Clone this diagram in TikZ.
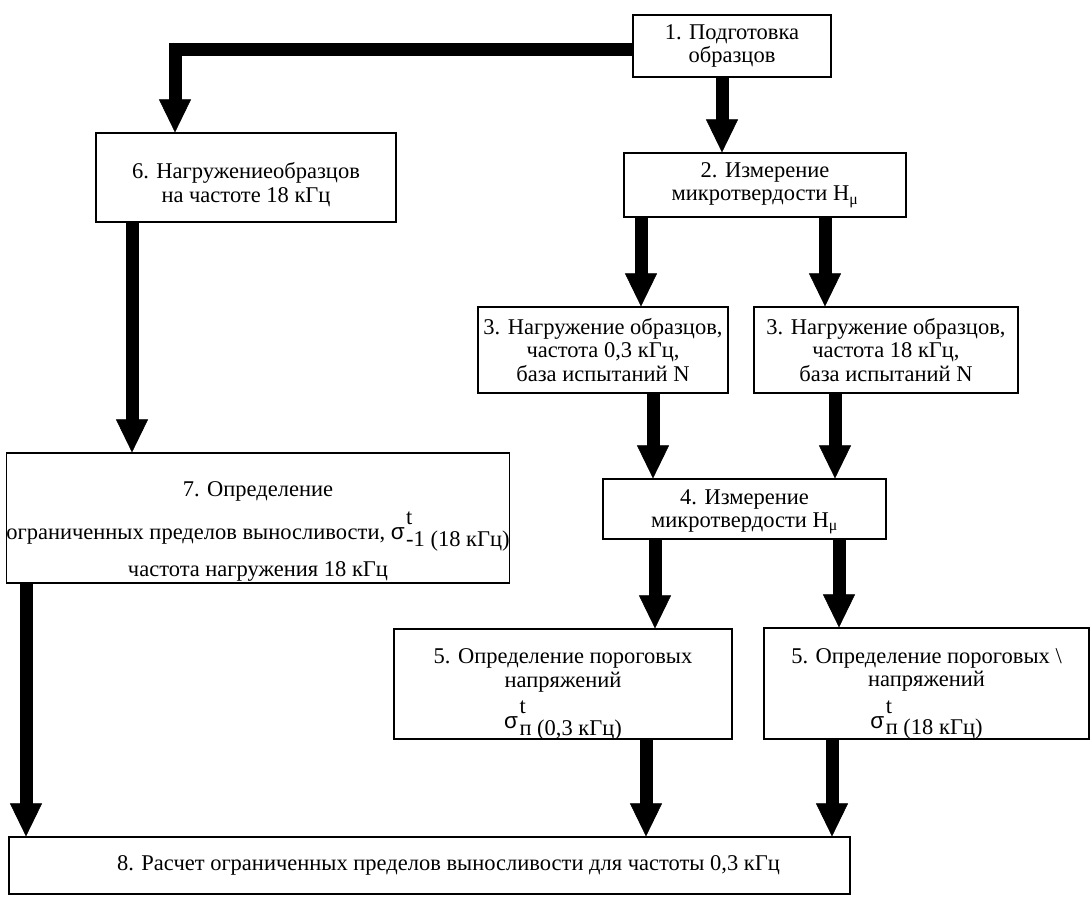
\documentclass[tikz,border=0pt]{standalone}
\usepackage{fontspec}
\setmainfont{Liberation Serif}
\newfontfamily\grfont{Liberation Sans}
\usetikzlibrary{arrows.meta, positioning}

\newcommand{\sgm}[2]{{\grfont σ}\kern1.5pt\rlap{\raisebox{0.65em}{#1}}\raisebox{-0.3em}{#2}}

\begin{document}
\begin{tikzpicture}[x=1pt, y=-1pt,
      blok/.style={draw, line width=1.2pt, align=center, inner sep=0pt,
                   font=\fontsize{22.5}{23.5}\selectfont},
      strel/.style={-{Triangle[width=32pt, length=33pt, line width=0.5pt]},
                    line width=13pt}
    ]
      \useasboundingbox (0,0) rectangle (1091,896);

      \node[blok, minimum width=198, minimum height=62] (b1) at (732,46) {1. Подготовка\\образцов};
      \node[blok, minimum width=282, minimum height=64] (b2) at (765,185) {2. Измерение\\микротвердости H\textsubscript{μ}};
      \node[blok, minimum width=300, minimum height=89] (b6) at (246,177.5) {\rule{0pt}{30pt}6. Нагружениеобразцов\\на частоте 18 кГц};
      \node[blok, minimum width=250, minimum height=86] (b3a) at (603,350) {3. Нагружение образцов,\\частота 0,3 кГц,\\база испытаний N};
      \node[blok, minimum width=264, minimum height=86] (b3b) at (886,350) {3. Нагружение образцов,\\частота 18 кГц,\\база испытаний N};
      \node[blok, minimum width=283, minimum height=60] (b4) at (744.5,509) {\rule{0pt}{20pt}4. Измерение\\микротвердости H\textsubscript{μ}};
      \node[blok, minimum width=500, minimum height=130] (b7) at (258,518) {\rule{0pt}{42pt}7. Определение\\[10pt]ограниченных пределов выносливости, \sgm{t}{-1 (18 кГц)}\\[10pt]частота нагружения 18 кГц};
      \node[blok, minimum width=338, minimum height=110] (b5a) at (563,684) {\rule{0pt}{24pt}5. Определение пороговых\\напряжений\\[18pt]\smash{\sgm{t}{п (0,3 кГц)}}};
      \node[blok, minimum width=325, minimum height=111] (b5b) at (926.5,683.5) {\rule{0pt}{24pt}5. Определение пороговых \textbackslash\\напряжений\\[18pt]\smash{\sgm{t}{п (18 кГц)}}};
      \node[blok, minimum width=841, minimum height=57] (b8) at (429.5,865.5) {\hspace*{38pt}8. Расчет ограниченных пределов выносливости для частоты 0,3 кГц};

      \draw[strel] (b1.west |- 0,50) -| (175,0 |- b6.north);
      \draw[strel] (b1.south -| 722,0) -- (b2.north -| 722,0);
      \draw[strel] (b2.south -| 641,0) -- (b3a.north -| 641,0);
      \draw[strel] (b2.south -| 825,0) -- (b3b.north -| 825,0);
      \draw[strel] (b6.south -| 132,0) -- (b7.north -| 132,0);
      \draw[strel] (b3a.south -| 653,0) -- (b4.north -| 653,0);
      \draw[strel] (b3b.south -| 835,0) -- (b4.north -| 835,0);
      \draw[strel] (b4.south -| 655,0) -- (b5a.north -| 655,0);
      \draw[strel] (b4.south -| 839,0) -- (b5b.north -| 839,0);
      \draw[strel] (b7.south -| 26,0) -- (b8.north -| 26,0);
      \draw[strel] (b5a.south -| 646,0) -- (b8.north -| 646,0);
      \draw[strel] (b5b.south -| 832,0) -- (b8.north -| 832,0);
    \end{tikzpicture}
\end{document}
